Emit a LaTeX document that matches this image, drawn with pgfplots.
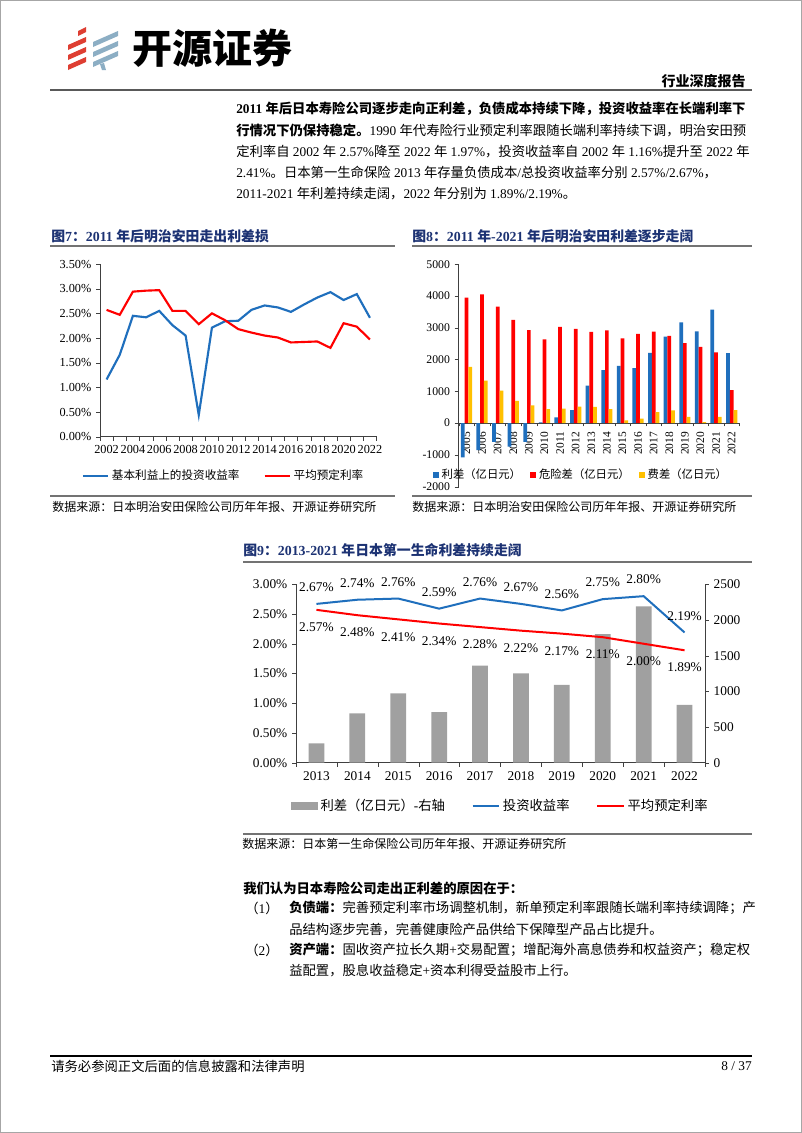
\documentclass[border=0pt]{standalone}
\usepackage{fontspec}
\setmainfont{Liberation Serif}
\newfontfamily\cjk{Noto Sans CJK SC}
\usepackage{xcolor}
\usepackage{pgfplots}
\pgfplotsset{compat=1.18}

% switch to the CJK font for Chinese characters, back to the main font for the rest
\XeTeXinterchartokenstate=1
\newXeTeXintercharclass\cjkclass
\newcount\cc
\def\setcls#1#2{\cc=#1\relax\loop\XeTeXcharclass\cc=\cjkclass\ifnum\cc<#2\advance\cc by 1\repeat}
\setcls{"4E00}{"9FFF}
\setcls{"3000}{"303F}
\setcls{"FF00}{"FFEF}
\XeTeXinterchartoks 0 \cjkclass = {\cjk}
\XeTeXinterchartoks 4095 \cjkclass = {\cjk}
\XeTeXinterchartoks \cjkclass 0 = {\rmfamily}
\XeTeXinterchartoks \cjkclass 4095 = {\rmfamily}

\definecolor{kyblue}{RGB}{31,111,189}
\definecolor{kyred}{RGB}{255,0,0}
\definecolor{kyyellow}{RGB}{255,192,0}
\definecolor{kygray}{RGB}{160,160,160}
\definecolor{kynavy}{RGB}{28,50,115}
\definecolor{logored}{RGB}{222,62,50}
\definecolor{logoblue}{RGB}{140,174,196}

\newcommand\fs[1]{\fontsize{#1}{#1}\selectfont}
\pgfplotsset{/pgf/number format/assume math mode=true}

\begin{document}
\begin{tikzpicture}
\begin{scope}[x=0.75pt,y=-0.75pt,
  txt/.style={anchor=west,inner sep=0pt,font=\fs{10}}]
\fill[white] (0,0) rectangle (802,1133);
\draw[gray!70] (0.5,0.5) rectangle (801.5,1132.5);
% logo
\fill[logored] (78,31) -- (86,27) -- (86,32) -- (78,36) -- cycle;
\foreach \d in {0,10,20}{
  \fill[logored] (68,45+\d) -- (86,37+\d) -- (86,42+\d) -- (68,50+\d) -- cycle;
  \fill[logoblue] (93,42+\d) -- (118,31+\d) -- (118,36+\d) -- (93,47+\d) -- cycle;}
\fill[logoblue] (100,64) -- (104,63) -- (106,70) -- (102,70) -- cycle;
\node[anchor=west,inner sep=0pt,font=\fs{30}\bfseries] at (132,48) {开源证券};
\node[anchor=east,inner sep=0pt,font=\fs{10.5}\bfseries] at (746,81) {行业深度报告};
\draw[black!65,line width=1.5pt] (50,89.5) -- (752,89.5);
% paragraph
\node[txt,font=\fs{10}\bfseries] at (236,109) {2011 年后日本寿险公司逐步走向正利差，负债成本持续下降，投资收益率在长端利率下};
\node[txt] at (236,130.5) {{\bfseries 行情况下仍保持稳定。}1990 年代寿险行业预定利率跟随长端利率持续下调，明治安田预};
\node[txt] at (236,152) {定利率自 2002 年 2.57\%降至 2022 年 1.97\%，投资收益率自 2002 年 1.16\%提升至 2022 年};
\node[txt] at (236,173) {2.41\%。日本第一生命保险 2013 年存量负债成本/总投资收益率分别 2.57\%/2.67\%，};
\node[txt] at (236,194) {2011-2021 年利差持续走阔，2022 年分别为 1.89\%/2.19\%。};
% figure titles and rules
\node[txt,font=\fs{10.4}\bfseries,text=kynavy] at (51,236) {图7：2011 年后明治安田走出利差损};
\node[txt,font=\fs{10.4}\bfseries,text=kynavy] at (412,236) {图8：2011 年-2021 年后明治安田利差逐步走阔};
\draw[black!55,line width=1pt] (50,246) -- (395,246);
\draw[black!55,line width=1pt] (412,246) -- (752,246);
\draw[black!55,line width=1pt] (50,496) -- (395,496);
\draw[black!55,line width=1pt] (412,496) -- (752,496);
\node[txt,font=\fs{9}] at (52,507) {数据来源：日本明治安田保险公司历年年报、开源证券研究所};
\node[txt,font=\fs{9}] at (412,507) {数据来源：日本明治安田保险公司历年年报、开源证券研究所};
\node[txt,font=\fs{10.4}\bfseries,text=kynavy] at (243,550) {图9：2013-2021 年日本第一生命利差持续走阔};
\draw[black!55,line width=1pt] (243,562) -- (752,562);
\draw[black!55,line width=1pt] (243,834) -- (752,834);
\node[txt,font=\fs{9}] at (242,844) {数据来源：日本第一生命保险公司历年年报、开源证券研究所};
% lower text
\node[txt,font=\fs{10}\bfseries] at (243,888) {我们认为日本寿险公司走出正利差的原因在于：};
\node[txt] at (245,908) {（1）};
\node[txt] at (289,908) {{\bfseries 负债端：}完善预定利率市场调整机制，新单预定利率跟随长端利率持续调降；产};
\node[txt] at (289,930) {品结构逐步完善，完善健康险产品供给下保障型产品占比提升。};
\node[txt] at (245,950) {（2）};
\node[txt] at (289,950) {{\bfseries 资产端：}固收资产拉长久期+交易配置；增配海外高息债券和权益资产；稳定权};
\node[txt] at (289,971) {益配置，股息收益稳定+资本利得受益股市上行。};
% footer
\draw[black,line width=1pt] (50,1056) -- (752,1056);
\node[txt] at (51,1066) {请务必参阅正文后面的信息披露和法律声明};
\node[anchor=east,inner sep=0pt,font=\fs{10}] at (752,1066) {8 / 37};
\end{scope}

% Figure 7
\begin{axis}[at={(75pt,-327.5pt)}, anchor=south west,
  scale only axis, width=207.4pt, height=129.5pt,
  xmin=2001.5, xmax=2022.5, ymin=0, ymax=3.5,
  axis x line*=bottom, axis y line*=left,
  axis line style={black!75,line width=0.6pt},
  tick style={black!75}, tick align=outside,
  xtick={2002,2004,...,2022}, major x tick style={draw=none},
  minor xtick={2001.5,2002.5,...,2022.5}, minor tick length=3pt,
  ytick={0,0.5,...,3.5}, major tick length=3pt,
  yticklabel={\pgfmathprintnumber[fixed,fixed zerofill,precision=2]{\tick}\%},
  tick label style={font=\fs{9.2}},
  x tick label style={/pgf/number format/1000 sep={}},
  legend columns=2,
  legend style={at={(0.448,-0.228)}, anchor=center, draw=none, fill=none,
    font=\fs{8.7}, /tikz/every even column/.append style={column sep=16pt}},
  legend image code/.code={\draw[#1] (0pt,0pt) -- (19pt,0pt);},
]
\addplot[kyblue, line width=1.6pt] coordinates {
(2002,1.16)(2003,1.66)(2004,2.45)(2005,2.42)(2006,2.55)(2007,2.26)(2008,2.05)
(2009,0.44)(2010,2.21)(2011,2.34)(2012,2.35)(2013,2.57)(2014,2.66)(2015,2.62)
(2016,2.53)(2017,2.68)(2018,2.82)(2019,2.93)(2020,2.77)(2021,2.89)(2022,2.41)};
\addlegendentry{基本利益上的投资收益率}
\addplot[kyred, line width=1.6pt] coordinates {
(2002,2.57)(2003,2.47)(2004,2.94)(2005,2.96)(2006,2.97)(2007,2.55)(2008,2.55)
(2009,2.28)(2010,2.50)(2011,2.36)(2012,2.18)(2013,2.11)(2014,2.05)(2015,2.01)
(2016,1.91)(2017,1.92)(2018,1.93)(2019,1.80)(2020,2.30)(2021,2.23)(2022,1.97)};
\addlegendentry{平均预定利率}
\end{axis}

% Figure 8
\begin{axis}[at={(344pt,-365pt)}, anchor=south west,
  scale only axis, width=210.6pt, height=166.8pt,
  xmin=2004.5, xmax=2022.5, ymin=-2000, ymax=5000,
  axis x line*=middle, axis y line*=left,
  axis line style={black!75,line width=0.6pt},
  tick style={black!75}, tick align=outside,
  xtick={2005,...,2022}, major x tick style={draw=none},
  minor xtick={2004.5,2005.5,...,2022.5}, minor tick length=2.5pt,
  ytick={-2000,-1000,...,5000}, major tick length=3pt,
  tick label style={font=\fs{8.8},/pgf/number format/1000 sep={}},
  xticklabel style={rotate=90, anchor=east, font=\fs{8.6}},
  ybar, bar width=2.8pt,
  legend columns=3,
  legend style={at={(0.437,0.053)}, anchor=center, draw=none, fill=none,
    font=\fs{8.5}, /tikz/every even column/.append style={column sep=5pt}},
  legend image code/.code={\fill[#1] (0pt,-2.5pt) rectangle (4.5pt,2.5pt);},
]
\addplot[fill=kyblue, draw=none, bar shift=-2.8pt] coordinates {
(2005,-1080)(2006,-850)(2007,-590)(2008,-740)(2009,-590)(2010,20)(2011,180)
(2012,410)(2013,1180)(2014,1670)(2015,1800)(2016,1730)(2017,2210)(2018,2720)
(2019,3170)(2020,2890)(2021,3570)(2022,2200)};
\addlegendentry{利差（亿日元）}
\addplot[fill=kyred, draw=none, bar shift=0pt] coordinates {
(2005,3950)(2006,4050)(2007,3670)(2008,3250)(2009,2930)(2010,2640)(2011,3030)
(2012,2970)(2013,2870)(2014,2920)(2015,2670)(2016,2810)(2017,2880)(2018,2750)
(2019,2520)(2020,2400)(2021,2230)(2022,1040)};
\addlegendentry{危险差（亿日元）}
\addplot[fill=kyyellow, draw=none, bar shift=2.8pt] coordinates {
(2005,1770)(2006,1340)(2007,1020)(2008,700)(2009,560)(2010,440)(2011,460)
(2012,520)(2013,510)(2014,440)(2015,90)(2016,140)(2017,350)(2018,400)
(2019,200)(2020,30)(2021,200)(2022,410)};
\addlegendentry{费差（亿日元）}
\end{axis}

% Figure 9, bars on the right axis
\begin{axis}[at={(222pt,-572pt)}, anchor=south west,
  scale only axis, width=306.75pt, height=133.8pt,
  xmin=2012.5, xmax=2022.5, ymin=0, ymax=2500,
  axis x line*=bottom, axis y line*=right,
  axis line style={black!75,line width=0.6pt},
  tick style={black!75}, tick align=outside,
  xtick={2013,...,2022}, major x tick style={draw=none},
  minor xtick={2012.5,2013.5,...,2022.5}, minor tick length=3pt,
  ytick={0,500,...,2500}, major tick length=3pt,
  tick label style={font=\fs{10},/pgf/number format/1000 sep={}},
  ybar, bar width=11.8pt,
]
\addplot[fill=kygray, draw=none] coordinates {
(2013,270)(2014,690)(2015,970)(2016,710)(2017,1360)
(2018,1250)(2019,1090)(2020,1800)(2021,2190)(2022,810)};
\end{axis}

% Figure 9, lines on the left axis
\begin{axis}[at={(222pt,-572pt)}, anchor=south west,
  scale only axis, width=306.75pt, height=133.8pt,
  xmin=2012.5, xmax=2022.5, ymin=0, ymax=3,
  hide x axis, axis y line*=left, clip=false,
  axis line style={black!75,line width=0.6pt},
  tick style={black!75}, tick align=outside, major tick length=3pt,
  ytick={0,0.5,...,3},
  yticklabel={\pgfmathprintnumber[fixed,fixed zerofill,precision=2]{\tick}\%},
  tick label style={font=\fs{10}},
  legend columns=3,
  legend style={at={(0.5,-0.243)}, anchor=center, draw=none, fill=none,
    font=\fs{10}, /tikz/every even column/.append style={column sep=18pt}},
  legend image code/.code={\draw[#1] (0pt,0pt) -- (20pt,0pt);},
]
\addlegendimage{legend image code/.code={\fill[kygray] (0pt,-2.5pt) rectangle (20pt,2.5pt);}}
\addlegendentry{利差（亿日元）-右轴}
\addplot[kyblue, line width=1.5pt, point meta=y,
  nodes near coords={\pgfmathprintnumber[fixed,fixed zerofill,precision=2]{\pgfplotspointmeta}\%},
  every node near coord/.style={anchor=center, yshift=12.5pt, font=\fs{10}, text=black}]
  coordinates {(2013,2.67)(2014,2.74)(2015,2.76)(2016,2.59)(2017,2.76)
  (2018,2.67)(2019,2.56)(2020,2.75)(2021,2.80)(2022,2.19)};
\addlegendentry{投资收益率}
\addplot[kyred, line width=1.5pt, point meta=y,
  nodes near coords={\pgfmathprintnumber[fixed,fixed zerofill,precision=2]{\pgfplotspointmeta}\%},
  every node near coord/.style={anchor=center, yshift=-13pt, font=\fs{10}, text=black}]
  coordinates {(2013,2.57)(2014,2.48)(2015,2.41)(2016,2.34)(2017,2.28)
  (2018,2.22)(2019,2.17)(2020,2.11)(2021,2.00)(2022,1.89)};
\addlegendentry{平均预定利率}
\end{axis}
\end{tikzpicture}
\end{document}
